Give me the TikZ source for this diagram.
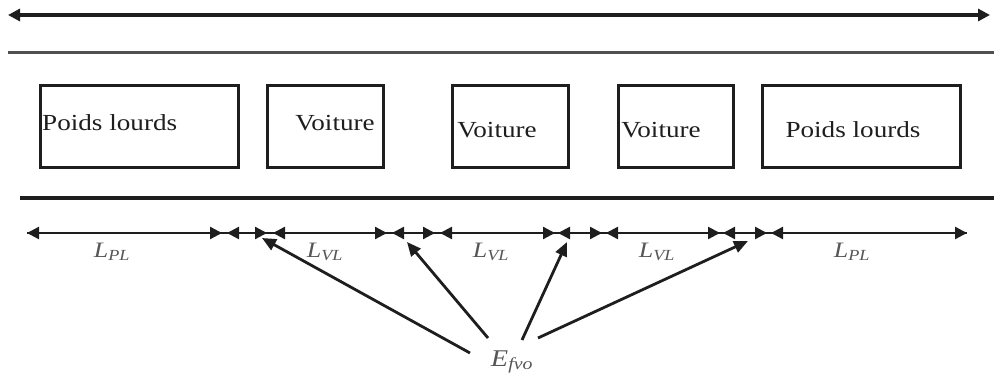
\documentclass[tikz,border=0pt]{standalone}
\usepackage{fontspec}
\setmainfont{Liberation Serif}[FakeStretch=1.18]
\usetikzlibrary{arrows.meta}
\definecolor{ink}{HTML}{1E1E1E}
\definecolor{lane}{HTML}{505050}
\tikzset{
  tip/.tip={Triangle[length=12pt,width=12pt]},
  veh/.style={draw=ink,line width=3pt,minimum height=82pt,inner sep=0pt},
  vtext/.style={font=\fontsize{23}{26}\selectfont,text=ink,inner sep=0pt},
  dim/.style={draw=ink,line width=2.4pt,{tip}-{tip}},
  lbl/.style={font=\fontsize{22}{24}\selectfont\itshape,text=ink!75,inner sep=0pt},
  ptr/.style={draw=ink,line width=2.8pt,-{Triangle[length=14pt,width=12pt]}}
}
\begin{document}
\begin{tikzpicture}[x=1pt,y=-1pt]
\useasboundingbox (0,0) rectangle (994,379);
% road lines
\coordinate (ta) at (8,15); \coordinate (tb) at (990,15);
\draw[draw=ink,line width=3.4pt,{tip}-{tip}] (ta) -- (tb);
\coordinate (la) at (8,53); \coordinate (lb) at (994,53);
\draw[draw=lane,line width=3pt] (la) -- (lb);
\coordinate (ma) at (20,198); \coordinate (mb) at (994,198);
\draw[draw=ink,line width=3.8pt] (ma) -- (mb);
% vehicles
\node[veh,minimum width=198pt] (b1) at (139,127) {};
\node[veh,minimum width=116pt] (b2) at (325,127) {};
\node[veh,minimum width=116pt] (b3) at (510,127) {};
\node[veh,minimum width=115pt] (b4) at (675.5,127) {};
\node[veh,minimum width=198pt] (b5) at (861,127) {};
\node[vtext,anchor=west] (t1) at (42,123) {Poids lourds};
\node[vtext] (t2) at (335,123) {Voiture};
\node[vtext] (t3) at (497,130) {Voiture};
\node[vtext] (t4) at (661,130) {Voiture};
\node[vtext] (t5) at (853,130) {Poids lourds};
% dimension line
\foreach \n/\x in {d0/27,d1/222,d2/227,d3/267,d4/273,d5/387,d6/392,d7/435,d8/440,d9/555,d10/558,d11/602,d12/606,d13/720,d14/723,d15/767,d16/771,d17/967}
  {\coordinate (\n) at (\x,233);}
\draw[draw=ink,line width=2.4pt] (d0) -- (d17);
\foreach \a/\b in {d0/d1,d2/d3,d4/d5,d6/d7,d8/d9,d10/d11,d12/d13,d14/d15,d16/d17}
  {\draw[dim] (\a) -- (\b);}
\node[lbl] (l1) at (112,252) {L\textsubscript{PL}};
\node[lbl] (l2) at (325,252) {L\textsubscript{VL}};
\node[lbl] (l3) at (491,252) {L\textsubscript{VL}};
\node[lbl] (l4) at (657,252) {L\textsubscript{VL}};
\node[lbl] (l5) at (852,252) {L\textsubscript{PL}};
% E label and pointers
\node[lbl,font=\fontsize{24}{26}\selectfont\itshape] (E) at (512,362) {E\textsubscript{fvo}};
\coordinate (s1) at (470,353); \coordinate (e1) at (262,238);
\coordinate (s2) at (488,338); \coordinate (e2) at (407,242);
\coordinate (s3) at (522,340); \coordinate (e3) at (567,242);
\coordinate (s4) at (538,338); \coordinate (e4) at (748,241);
\draw[ptr] (s1) -- (e1);
\draw[ptr] (s2) -- (e2);
\draw[ptr] (s3) -- (e3);
\draw[ptr] (s4) -- (e4);
\end{tikzpicture}
\end{document}
